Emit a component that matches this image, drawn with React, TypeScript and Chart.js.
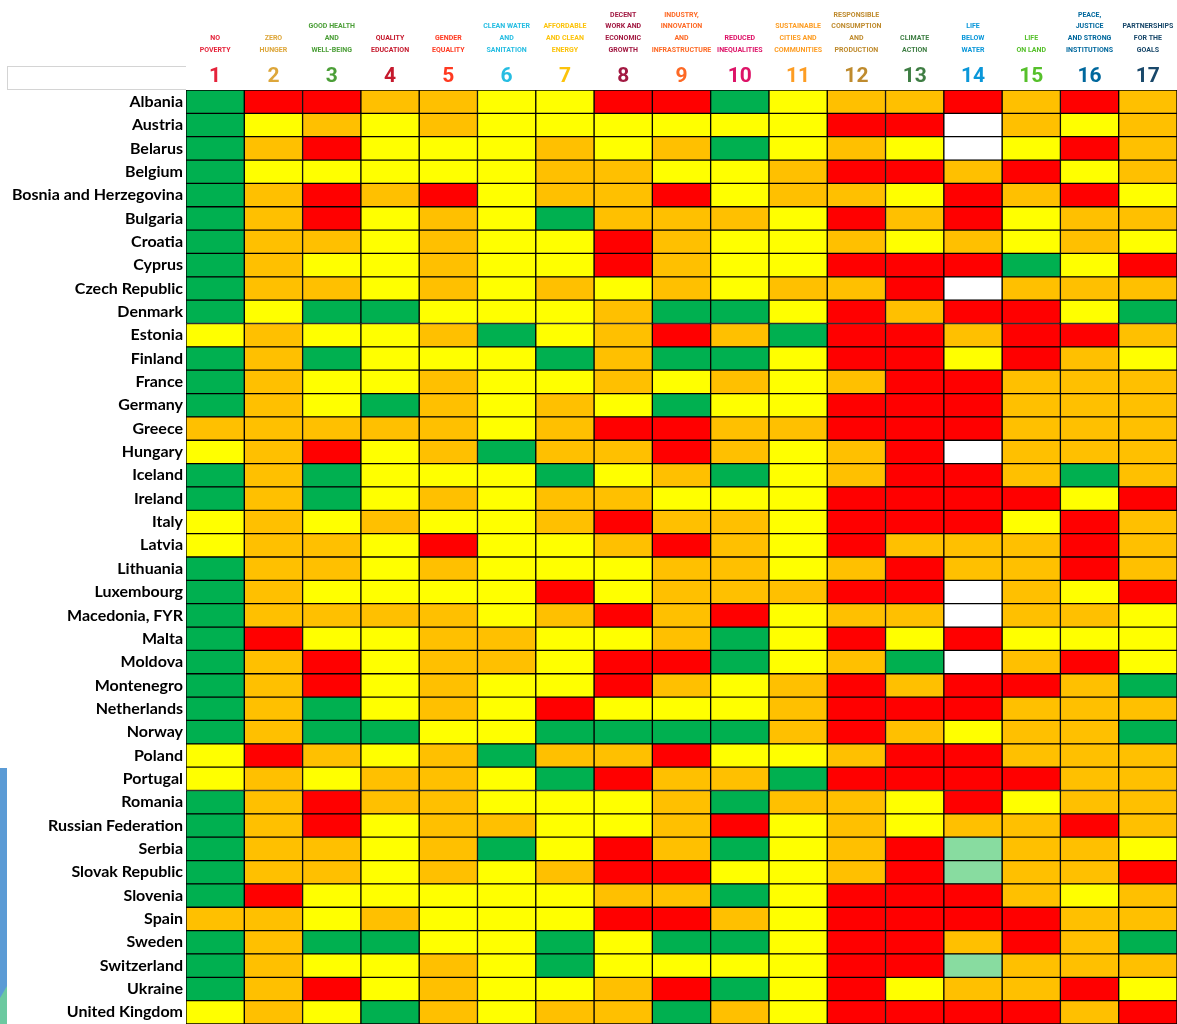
import React, { useEffect, useRef } from "react";
import { Chart, registerables } from "chart.js";

Chart.register(...registerables);

const countries = [
  "Albania", "Austria", "Belarus", "Belgium", "Bosnia and Herzegovina", "Bulgaria", "Croatia", "Cyprus",
  "Czech Republic", "Denmark", "Estonia", "Finland", "France", "Germany", "Greece", "Hungary", "Iceland",
  "Ireland", "Italy", "Latvia", "Lithuania", "Luxembourg", "Macedonia, FYR", "Malta", "Moldova", "Montenegro",
  "Netherlands", "Norway", "Poland", "Portugal", "Romania", "Russian Federation", "Serbia", "Slovak Republic",
  "Slovenia", "Spain", "Sweden", "Switzerland", "Ukraine", "United Kingdom",
];

const goalNumbers = ["1", "2", "3", "4", "5", "6", "7", "8", "9", "10", "11", "12", "13", "14", "15", "16", "17"];

const goalNames = [
  ["NO", "POVERTY"],
  ["ZERO", "HUNGER"],
  ["GOOD HEALTH", "AND", "WELL-BEING"],
  ["QUALITY", "EDUCATION"],
  ["GENDER", "EQUALITY"],
  ["CLEAN WATER", "AND", "SANITATION"],
  ["AFFORDABLE", "AND CLEAN", "ENERGY"],
  ["DECENT", "WORK AND", "ECONOMIC", "GROWTH"],
  ["INDUSTRY,", "INNOVATION", "AND", "INFRASTRUCTURE"],
  ["REDUCED", "INEQUALITIES"],
  ["SUSTAINABLE", "CITIES AND", "COMMUNITIES"],
  ["RESPONSIBLE", "CONSUMPTION", "AND", "PRODUCTION"],
  ["CLIMATE", "ACTION"],
  ["LIFE", "BELOW", "WATER"],
  ["LIFE", "ON LAND"],
  ["PEACE,", "JUSTICE", "AND STRONG", "INSTITUTIONS"],
  ["PARTNERSHIPS", "FOR THE", "GOALS"],
];

const goalColors = [
  "#E5243B", "#DDA63A", "#4C9F38", "#C5192D", "#FF3A21", "#26BDE2", "#FCC30B", "#A21942", "#FD6925",
  "#DD1367", "#FD9D24", "#BF8B2E", "#3F7E44", "#0A97D9", "#56C02B", "#00689D", "#19486A",
];

// one string per country, one letter per goal: G green, Y yellow, O orange, R red, W no data, L light green
const statusRows = [
  "GRROOYYRRGYOORORO",
  "GYOYOYYYYYYRRWOYO",
  "GORYYYOYOGYOYWYRO",
  "GYYYYYOOYYORRORYO",
  "GORORYOORYOOYRORY",
  "GORYOYGOOOYRORYOO",
  "GOOYOYYROYYOYOYOY",
  "GOYYOYYROYYRRRGYR",
  "GOOYOYOYOYOORWOOO",
  "GYGGYYYOGGYRORRYG",
  "YOYYOGYOROGRRORRO",
  "GOGYYYGOGGYRRYROY",
  "GOYYOYYOYOYORROOO",
  "GOYGOYOYGYYRRROOO",
  "OOOOOYORROORRROOO",
  "YORYOGOOROYORWOOO",
  "GOGYYYGYOGYORROGO",
  "GOGYOYOOYYYRRRRYR",
  "YOYOYYOROOYRRRYRO",
  "YOOYRYYOROYROOORO",
  "GOOYOYYYOOYOROORO",
  "GOYYYYRYOOORRWOYR",
  "GOOOOYORORYOOWOOY",
  "GRYYOOYYOGYRYRYYY",
  "GORYOOYRRGYOGWORY",
  "GORYOYYROYORORROG",
  "GOGYOYRYYYORRROOO",
  "GOGGYYGGGGOROYOOG",
  "YROYOGOORYYORROOO",
  "YOYOOYGROOGRRRROO",
  "GOROOYYYOGOOYRYOO",
  "GORYOOYYORYOYOORO",
  "GOOYOGYROGYORLOOY",
  "GOOYOYORRYYORLOOR",
  "GRYYYYYOOGYRRROYO",
  "OOYOYYYRROYRRRROO",
  "GOGGYYGYGGYRROROG",
  "GOYYOYGYYYYRRLOOO",
  "GORYOYYORGYRYOORY",
  "YOYGOYOOGOYRRRROR",
];

const statusColors: Record<string, string> = {
  G: "#00B050",
  Y: "#FFFF00",
  O: "#FFC000",
  R: "#FF0000",
  W: "#FFFFFF",
  L: "#88DCA0",
};

const headFont = "Roboto, 'Liberation Sans Narrow', sans-serif";

export default function App() {
  const ref = useRef<HTMLCanvasElement>(null);

  useEffect(() => {
    document.body.style.margin = "0";
    document.body.style.overflow = "hidden";
    const datasets = goalNumbers.map((g, k) => ({
      label: "SDG " + g,
      // each cell covers one goal unit on the stacked axis
      data: countries.map(() => 1),
      backgroundColor: statusRows.map((r) => statusColors[r[k]]),
      borderColor: "#000000",
      borderWidth: 1,
      borderSkipped: false as const,
      barPercentage: 1,
      categoryPercentage: 1,
    }));

    const chart = new Chart(ref.current as HTMLCanvasElement, {
      type: "bar",
      data: { labels: countries, datasets },
      options: {
        indexAxis: "y",
        animation: false,
        responsive: false,
        devicePixelRatio: 1,
        layout: { padding: 0 },
        plugins: { legend: { display: false }, tooltip: { enabled: false } },
        scales: {
          x: { type: "linear", stacked: true, min: 0, max: 17, display: false },
          y: {
            type: "category",
            stacked: true,
            offset: true,
            grid: { display: false, drawTicks: false },
            border: { display: false },
            ticks: {
              padding: 3,
              color: "#000000",
              autoSkip: false,
              font: { family: "Lato, 'Open Sans', sans-serif", weight: "bold", size: 16 },
            },
            afterFit: (s: any) => {
              s.width = 186;
              s.paddingTop = 0;
              s.paddingBottom = 0;
            },
          },
          xNum: {
            type: "category",
            axis: "x",
            labels: goalNumbers,
            position: "top",
            offset: true,
            weight: 0,
            grid: { display: false, drawTicks: false },
            border: { display: false },
            ticks: {
              padding: 1,
              autoSkip: false,
              maxRotation: 0,
              minRotation: 0,
              color: (ctx: any) => goalColors[ctx.index],
              font: { family: headFont, weight: "bold", size: 21, lineHeight: 1.2 },
            },
            afterFit: (s: any) => {
              s.height = 28;
              s.paddingLeft = 0;
              s.paddingRight = 0;
            },
          },
          xName: {
            type: "category",
            axis: "x",
            labels: goalNames as any,
            position: "top",
            offset: true,
            weight: 1,
            grid: { display: false, drawTicks: false },
            border: { display: false },
            ticks: {
              padding: 6,
              autoSkip: false,
              maxRotation: 0,
              minRotation: 0,
              color: (ctx: any) => goalColors[ctx.index],
              font: { family: headFont, weight: "bold", size: 7, lineHeight: 1.68 },
            },
            afterFit: (s: any) => {
              s.height = 62;
              s.paddingLeft = 0;
              s.paddingRight = 0;
            },
          },
        } as any,
      },
    });
    return () => chart.destroy();
  }, []);

  return (
    <div style={{ position: "relative", width: 1177, height: 1024, overflow: "hidden", background: "#ffffff" }}>
      <div
        style={{
          position: "absolute",
          left: 7,
          top: 66,
          width: 178,
          height: 22,
          border: "1px solid #d4d4d4",
          borderRight: "none",
        }}
      />
      <div style={{ position: "absolute", left: 0, top: 768, width: 7, height: 232, background: "#5B9BD5" }} />
      <div
        style={{
          position: "absolute",
          left: 0,
          top: 986,
          width: 7,
          height: 38,
          background: "#6CC9A0",
          clipPath: "polygon(0 12px, 100% 0, 100% 100%, 0 100%)",
        }}
      />
      <canvas ref={ref} width={1177} height={1024} style={{ position: "absolute", left: 0, top: 0 }} />
    </div>
  );
}
